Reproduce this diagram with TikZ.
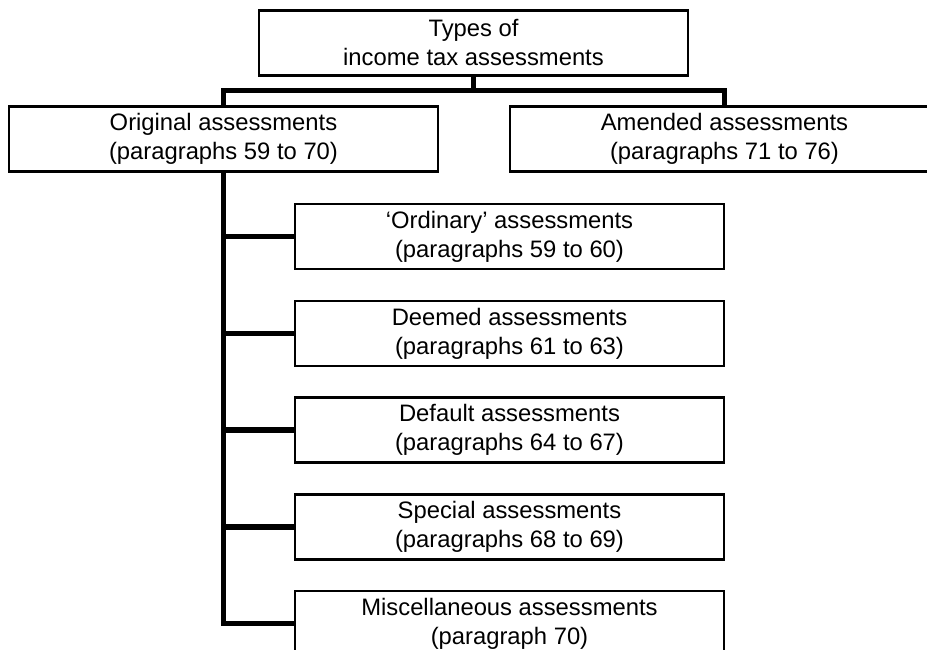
\documentclass[tikz,border=0pt]{standalone}
\usepackage{fontspec}
\setmainfont{Liberation Sans}
\usepackage{tikz}
\usetikzlibrary{calc}

\tikzset{
  box/.style={draw, line width=2.4pt, minimum width=429pt, minimum height=65pt,
    inner sep=0pt, align=center, font=\fontsize{23.8}{29}\selectfont},
  conn/.style={line width=5.5pt, line join=miter}
}

\begin{document}
\begin{tikzpicture}[x=1pt,y=-1pt]
\useasboundingbox (0,0) rectangle (927,650);

%Drawing top level
\node[box] (top) at (473.5,43) {Types of\\income tax assessments};
\node[box] (orig) at (223.5,139) {Original assessments\\(paragraphs 59 to 70)};
\node[box] (amend) at (724.5,139) {Amended assessments\\(paragraphs 71 to 76)};

%Drawing kinds of original assessments
\node[box] (ord) at (509.5,236.5) {`Ordinary' assessments\\(paragraphs 59 to 60)};
\node[box] (deem) at (509.5,333.5) {Deemed assessments\\(paragraphs 61 to 63)};
\node[box] (dflt) at (509.5,430) {Default assessments\\(paragraphs 64 to 67)};
\node[box] (spec) at (509.5,527) {Special assessments\\(paragraphs 68 to 69)};
\node[box] (misc) at (509.5,623.5) {Miscellaneous assessments\\(paragraph 70)};

%connecting them
\coordinate (bar) at (473.5,90.5);
\draw[conn] (top.south) -- (top.south |- bar);
\draw[conn] (orig.north) -- (orig.north |- bar) -- (amend.north |- bar) -- (amend.north);
\draw[conn] (orig.south) |- (misc.west);
\foreach \n in {ord,deem,dflt,spec}
  \draw[conn] (orig.south |- \n.west) -- (\n.west);

\end{tikzpicture}
\end{document}
